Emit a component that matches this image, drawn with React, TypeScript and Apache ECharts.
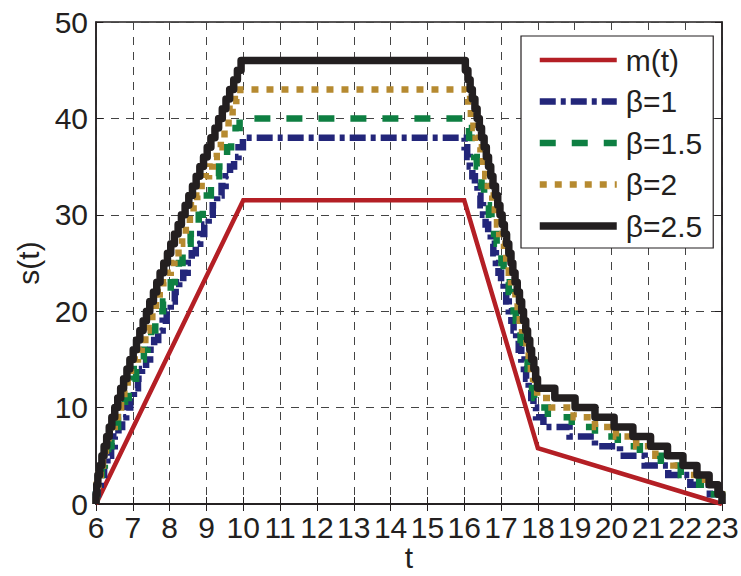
import React, { useEffect, useRef } from "react";
import * as echarts from "echarts";

// Axis ticks
const xTicks = { min: 6, max: 23, interval: 1 };
const yTicks = { min: 0, max: 50, interval: 10 };

// m(t): piecewise-linear mean demand (breakpoints)
const mT = [6, 10, 16, 18, 23];
const mV = [0, 31.5, 31.5, 5.8, 0];

// Staircase curves s(t) for each beta: the level steps by one unit at each listed time.
// rise: times where the level goes 0->1, 1->2, ... up to the peak
// fall / tail: times where the level drops by one from the peak down to 0
const b1Peak = 38;
const b1Rise = [6.0, 6.05, 6.13, 6.22, 6.31, 6.41, 6.51, 6.61, 6.71, 6.82, 6.93, 7.03, 7.14, 7.25, 7.36, 7.47, 7.58, 7.69, 7.81, 7.92, 8.03, 8.14, 8.26, 8.37, 8.49, 8.6, 8.71, 8.83, 8.94, 9.06, 9.17, 9.29, 9.41, 9.52, 9.64, 9.75, 9.87, 9.99];
const b1Fall = [16.01, 16.08, 16.15, 16.22, 16.29, 16.36, 16.44, 16.51, 16.58, 16.65, 16.72, 16.79, 16.86, 16.93, 17.0, 17.07, 17.14, 17.21, 17.28, 17.34, 17.41, 17.48, 17.55, 17.62, 17.68, 17.75, 17.82, 17.88, 17.95];
const b1Tail = [18.15, 18.86, 19.55, 20.23, 20.9, 21.54, 22.14, 22.67, 23.0];

const b15Peak = 40;
const b15Rise = [6.0, 6.03, 6.09, 6.16, 6.24, 6.33, 6.42, 6.51, 6.6, 6.7, 6.79, 6.89, 6.99, 7.09, 7.19, 7.3, 7.4, 7.5, 7.61, 7.71, 7.82, 7.93, 8.03, 8.14, 8.25, 8.35, 8.46, 8.57, 8.68, 8.79, 8.9, 9.01, 9.12, 9.23, 9.34, 9.45, 9.56, 9.67, 9.79, 9.9];
const b15Fall = [16.06, 16.13, 16.2, 16.27, 16.34, 16.4, 16.47, 16.54, 16.61, 16.67, 16.74, 16.81, 16.88, 16.94, 17.01, 17.07, 17.14, 17.21, 17.27, 17.34, 17.4, 17.47, 17.53, 17.59, 17.66, 17.72, 17.78, 17.84, 17.9, 17.97];
const b15Tail = [18.27, 18.92, 19.55, 20.17, 20.77, 21.34, 21.88, 22.38, 22.78, 23.0];

const b2Peak = 43;
const b2Rise = [6.0, 6.02, 6.07, 6.13, 6.19, 6.27, 6.34, 6.42, 6.51, 6.59, 6.68, 6.77, 6.86, 6.95, 7.05, 7.14, 7.24, 7.34, 7.43, 7.53, 7.63, 7.73, 7.83, 7.93, 8.03, 8.13, 8.24, 8.34, 8.44, 8.55, 8.65, 8.75, 8.86, 8.96, 9.07, 9.17, 9.28, 9.39, 9.49, 9.6, 9.71, 9.81, 9.92];
const b2Fall = [16.05, 16.11, 16.18, 16.25, 16.31, 16.38, 16.44, 16.51, 16.57, 16.64, 16.7, 16.76, 16.83, 16.89, 16.95, 17.02, 17.08, 17.14, 17.21, 17.27, 17.33, 17.39, 17.45, 17.51, 17.57, 17.63, 17.69, 17.75, 17.81, 17.87, 17.92, 17.98];
const b2Tail = [18.37, 18.97, 19.55, 20.12, 20.67, 21.19, 21.68, 22.14, 22.54, 22.85, 23.0];

const b25Peak = 46;
const b25Rise = [6.0, 6.02, 6.05, 6.1, 6.16, 6.22, 6.29, 6.36, 6.43, 6.51, 6.59, 6.67, 6.75, 6.84, 6.92, 7.01, 7.1, 7.19, 7.28, 7.37, 7.46, 7.56, 7.65, 7.74, 7.84, 7.94, 8.03, 8.13, 8.23, 8.32, 8.42, 8.52, 8.62, 8.72, 8.82, 8.92, 9.02, 9.12, 9.23, 9.33, 9.43, 9.53, 9.63, 9.74, 9.84, 9.94];
const b25Fall = [16.03, 16.1, 16.16, 16.22, 16.29, 16.35, 16.41, 16.47, 16.54, 16.6, 16.66, 16.72, 16.78, 16.85, 16.91, 16.97, 17.03, 17.09, 17.15, 17.21, 17.27, 17.32, 17.38, 17.44, 17.5, 17.56, 17.61, 17.67, 17.72, 17.78, 17.83, 17.89, 17.94, 17.99];
const b25Tail = [18.46, 19.01, 19.55, 20.07, 20.58, 21.06, 21.52, 21.94, 22.32, 22.65, 22.89, 23.0];

const seriesNames = ["m(t)", "β=1", "β=1.5", "β=2", "β=2.5"];

function stairs(peak: number, rise: number[], fall: number[], tail: number[]) {
  const pts: number[][] = [[xTicks.min, 0]];
  let level = 0;
  for (const t of rise) {
    pts.push([t, level]);
    level += 1;
    pts.push([t, level]);
  }
  level = peak;
  for (const t of fall.concat(tail)) {
    pts.push([t, level]);
    level -= 1;
    pts.push([t, level]);
  }
  return pts;
}

const FONT = "'Liberation Sans', Arial, Helvetica, sans-serif";
const TXT = "#231F20";
const FS = 30;

const styles = [
  { color: "#B41F25", width: 4.5, type: "solid" as any },
  { color: "#23267A", width: 6.5, type: [16, 5, 5, 5] as any },
  { color: "#0E7F42", width: 6.5, type: [16, 16] as any },
  { color: "#B68A30", width: 6.5, type: [7, 8] as any },
  { color: "#231F20", width: 7.5, type: "solid" as any },
];

export default function App() {
  const ref = useRef<HTMLDivElement>(null);
  useEffect(() => {
    if (!ref.current) return;
    const chart = echarts.init(ref.current, undefined, { renderer: "svg" });
    const dataSets = [
      mT.map((t, i) => [t, mV[i]]),
      stairs(b1Peak, b1Rise, b1Fall, b1Tail),
      stairs(b15Peak, b15Rise, b15Fall, b15Tail),
      stairs(b2Peak, b2Rise, b2Fall, b2Tail),
      stairs(b25Peak, b25Rise, b25Fall, b25Tail),
    ];
    const axisLabel = { color: TXT, fontSize: FS, fontFamily: FONT };
    const gridLine = { show: true, lineStyle: { color: "#444", width: 1, type: [8, 7] as any } };
    chart.setOption({
      animation: false,
      backgroundColor: "#fff",
      grid: {
        left: 96,
        right: 19,
        top: 22,
        bottom: 72,
        containLabel: false,
        outerBoundsMode: "none",
        show: true,
        borderColor: TXT,
        borderWidth: 1.5,
        backgroundColor: "transparent",
      },
      legend: {
        left: 521,
        top: 36,
        orient: "vertical",
        align: "left",
        backgroundColor: "#fff",
        borderColor: TXT,
        borderWidth: 1.2,
        borderRadius: 0,
        padding: [9, 11, 7, 15],
        itemWidth: 77,
        itemHeight: 14,
        itemGap: 11.5,
        textStyle: { color: TXT, fontSize: FS, fontFamily: FONT, padding: [0, 0, 0, 4] },
        data: seriesNames.map((n, i) => ({
          name: n,
          itemStyle: { opacity: 0, borderWidth: 0 },
          lineStyle: { width: styles[i].width, type: styles[i].type, color: styles[i].color, cap: "butt", opacity: 1 },
        })),
      },
      xAxis: [
        {
          type: "value",
          min: xTicks.min,
          max: xTicks.max,
          interval: xTicks.interval,
          name: "t",
          nameLocation: "middle",
          nameGap: 38,
          nameMoveOverlap: false,
          nameTextStyle: { color: TXT, fontSize: FS, fontFamily: FONT },
          axisLine: { show: true, onZero: false, lineStyle: { color: TXT, width: 1.5 } },
          axisTick: { show: true, inside: true, length: 7, lineStyle: { color: TXT } },
          axisLabel: { ...axisLabel, margin: 8 },
          splitLine: gridLine,
        },
        {
          type: "value",
          position: "top",
          min: xTicks.min,
          max: xTicks.max,
          interval: xTicks.interval,
          axisLine: { show: true, lineStyle: { color: TXT, width: 1.5 } },
          axisTick: { show: true, inside: true, length: 7, lineStyle: { color: TXT } },
          axisLabel: { show: false },
          splitLine: { show: false },
        },
      ],
      yAxis: [
        {
          type: "value",
          min: yTicks.min,
          max: yTicks.max,
          interval: yTicks.interval,
          name: "s(t)",
          nameLocation: "middle",
          nameGap: 53,
          nameMoveOverlap: false,
          nameRotate: 90,
          nameTextStyle: { color: TXT, fontSize: FS, fontFamily: FONT },
          axisLine: { show: true, onZero: false, lineStyle: { color: TXT, width: 1.5 } },
          axisTick: { show: true, inside: true, length: 7, lineStyle: { color: TXT } },
          axisLabel: { ...axisLabel, margin: 8 },
          splitLine: gridLine,
        },
        {
          type: "value",
          position: "right",
          min: yTicks.min,
          max: yTicks.max,
          interval: yTicks.interval,
          axisLine: { show: true, lineStyle: { color: TXT, width: 1.5 } },
          axisTick: { show: true, inside: true, length: 7, lineStyle: { color: TXT } },
          axisLabel: { show: false },
          splitLine: { show: false },
        },
      ],
      series: seriesNames.map((n, i) => ({
        name: n,
        type: "line",
        xAxisIndex: 0,
        yAxisIndex: 0,
        data: dataSets[i],
        symbol: "none",
        showSymbol: false,
        clip: true,
        z: 2 + i,
        color: styles[i].color,
        lineStyle: { color: styles[i].color, width: styles[i].width, type: styles[i].type, cap: "butt", join: i === 4 ? "round" : "miter" },
      })),
    });
    return () => chart.dispose();
  }, []);
  return <div ref={ref} style={{ width: 741, height: 576, position: "absolute", left: 0, top: 0 }} />;
}
